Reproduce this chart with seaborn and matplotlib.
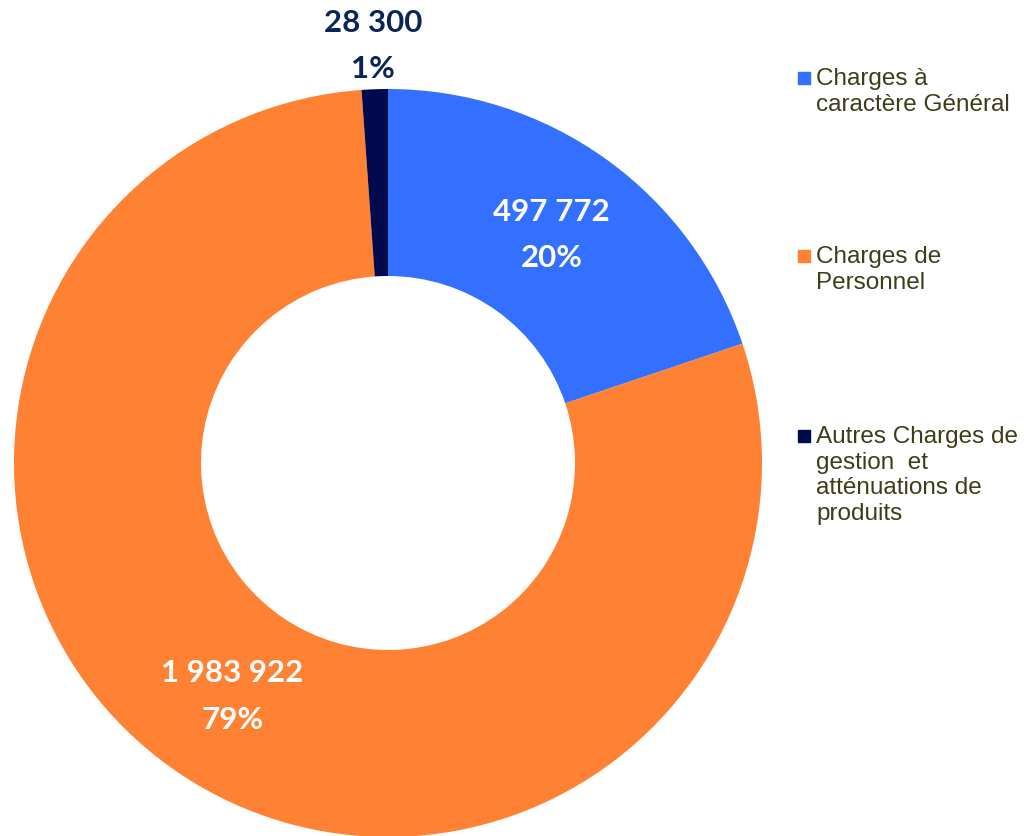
import numpy as np
import matplotlib
matplotlib.use("Agg")
import matplotlib.pyplot as plt
from matplotlib.patches import Rectangle
import seaborn as sns

# donnees du graphique
categories = ["Charges à\ncaractère Général",
              "Charges de\nPersonnel",
              "Autres Charges de\ngestion  et\natténuations de\nproduits"]
montants = [497772, 1983922, 28300]
libelles_montants = ["497 772", "1 983 922", "28 300"]
couleurs = ["#3370FF", "#FF8133", "#000A4C"]

sns.set_theme(style="white")
plt.rcParams['font.family'] = ['Liberation Sans', 'DejaVu Sans']

fig = plt.figure(figsize=(10.24, 8.36), dpi=100)
# axe carre centre sur (388, 463) px, rayon 374 px
cx, cy, r = 388, 463, 374
ax = fig.add_axes([(cx - r) / 1024, (836 - cy - r) / 836, 2 * r / 1024, 2 * r / 836])

wedges, _ = ax.pie(montants, colors=couleurs, startangle=90, counterclock=False,
                   wedgeprops=dict(width=0.5, linewidth=0))
ax.set_xlim(-1, 1)
ax.set_ylim(-1, 1)
ax.set_aspect("equal")
ax.axis("off")

total = sum(montants)
for i, w in enumerate(wedges):
    pct = round(100 * montants[i] / total)
    ang = np.deg2rad((w.theta1 + w.theta2) / 2)
    if montants[i] / total > 0.05:
        dist, coul = 0.75, "white"
    else:
        dist, coul = 1.115, "#0B2459"
    ax.text(dist * np.cos(ang), dist * np.sin(ang), f"{libelles_montants[i]}\n{pct}%",
            ha="center", va="center", fontsize=22.5, fontweight="bold", color=coul,
            family=["Lato", "DejaVu Sans"], linespacing=1.8)

# legende a droite
y_legende = [78, 256, 436]
for lab, coul, yp in zip(categories, couleurs, y_legende):
    fig.add_artist(Rectangle((798 / 1024, 1 - (yp + 6) / 836), 12 / 1024, 12 / 836,
                             transform=fig.transFigure, color=coul))
    fig.text(816 / 1024, 1 - (yp - 10) / 836, lab, ha="left", va="top",
             fontsize=17.5, color="#3D3D1A", linespacing=1.22)

plt.savefig("out.png", dpi=100)
